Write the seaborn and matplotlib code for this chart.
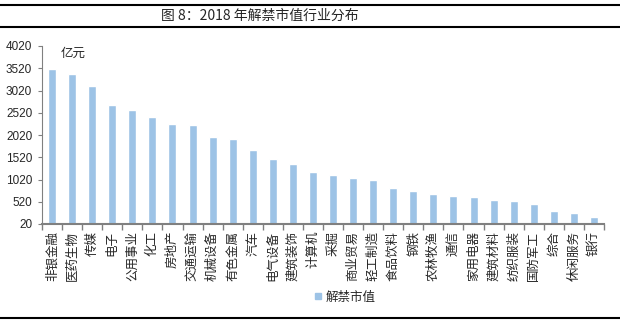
import matplotlib
matplotlib.use("Agg")
import matplotlib.pyplot as plt
from matplotlib.lines import Line2D
from matplotlib.ticker import FixedLocator
import seaborn as sns
import pandas as pd

industries = ["非银金融", "医药生物", "传媒", "电子", "公用事业", "化工", "房地产",
              "交通运输", "机械设备", "有色金属", "汽车", "电气设备", "建筑装饰",
              "计算机", "采掘", "商业贸易", "轻工制造", "食品饮料", "钢铁",
              "农林牧渔", "通信", "家用电器", "建筑材料", "纺织服装", "国防军工",
              "综合", "休闲服务", "银行"]
unlock_value = [3495, 3382, 3112, 2684, 2572, 2414, 2256, 2234, 1964, 1919,
                1694, 1491, 1378, 1198, 1131, 1063, 1018, 838, 770, 703,
                658, 635, 568, 545, 478, 320, 275, 185]
y_ticks = [20, 520, 1020, 1520, 2020, 2520, 3020, 3520, 4020]
series_name = "解禁市值"
unit_label = "亿元"
title = "图 8：2018 年解禁市值行业分布"

sns.set_theme(style="white")
plt.rcParams["font.family"] = ["Noto Sans CJK SC", "DejaVu Sans"]

df = pd.DataFrame({"industry": industries, "value": unlock_value})
bar_color = "#9DC3E6"
axis_color = "#808080"

fig = plt.figure(figsize=(6.2, 3.22), dpi=100)
ax = fig.add_axes([42 / 620, 1 - 224 / 322, 562 / 620, 178 / 322])

sns.barplot(data=df, x="industry", y="value", color=bar_color, width=0.4,
            saturation=1, ax=ax)

ax.set_ylim(y_ticks[0], y_ticks[-1])
ax.set_xlim(-0.5, len(industries) - 0.5)
ax.set_yticks(y_ticks)
ax.set_yticklabels([str(t) for t in y_ticks], fontsize=8.5,
                   family=["Liberation Sans", "DejaVu Sans"])
ax.set_xlabel("")
ax.set_ylabel("")

# category labels read bottom-to-top, tick marks sit between categories
ax.set_xticks(range(len(industries)))
ax.set_xticklabels(industries, rotation=90, fontsize=9)
ax.tick_params(axis="x", which="major", length=0, pad=5)
ax.xaxis.set_minor_locator(FixedLocator([i - 0.5 for i in range(len(industries) + 1)]))
ax.tick_params(axis="x", which="minor", length=4, width=1, color=axis_color,
               direction="out", bottom=True)
ax.tick_params(axis="y", length=3, width=0.8, color=axis_color, direction="out",
               left=True, pad=4)

for side in ["top", "right"]:
    ax.spines[side].set_visible(False)
ax.spines["left"].set_color(axis_color)
ax.spines["bottom"].set_color(axis_color)
ax.spines["bottom"].set_linewidth(1.5)
ax.spines["left"].set_linewidth(0.8)

ax.text(0.033, 0.995, unit_label, transform=ax.transAxes, fontsize=9,
        ha="left", va="top")

# title band with rules above and below
fig.add_artist(Line2D([0, 1], [1 - 5 / 322] * 2, color="black", lw=1.5,
                      transform=fig.transFigure))
fig.add_artist(Line2D([0, 1], [1 - 26.5 / 322] * 2, color="black", lw=1.5,
                      transform=fig.transFigure))
fig.add_artist(Line2D([0, 1], [1 - 318 / 322] * 2, color="black", lw=1.5,
                      transform=fig.transFigure))
fig.text(0.419, 1 - 16 / 322, title, fontsize=10, ha="center", va="center",
         fontweight="medium")

handle = Line2D([], [], marker="s", linestyle="none", markersize=5,
                markerfacecolor=bar_color, markeredgecolor=bar_color)
fig.legend([handle], [series_name], loc="center", bbox_to_anchor=(0.555, 1 - 297 / 322),
           frameon=False, fontsize=9, handletextpad=0.2, handlelength=0.8)

fig.savefig("out.png", dpi=100)
